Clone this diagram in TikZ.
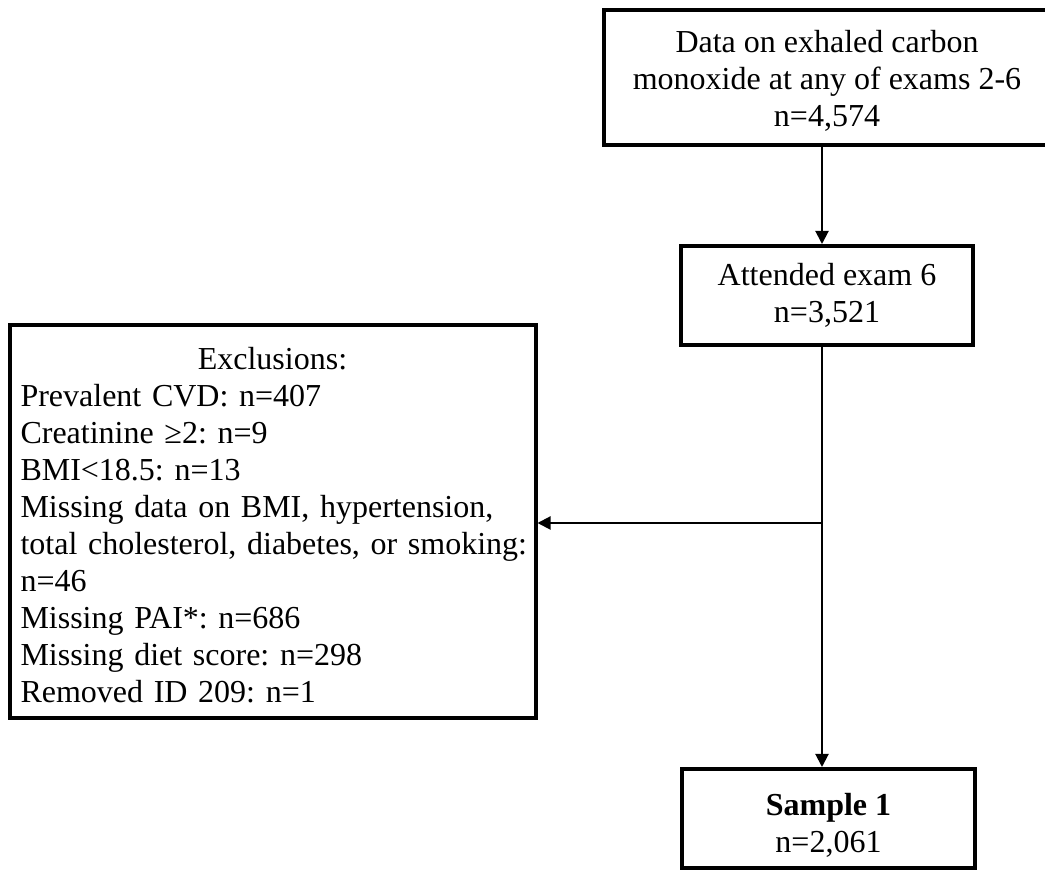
\documentclass[tikz,border=0pt]{standalone}
\usepackage{fontspec}
\setmainfont{Liberation Serif}
\usetikzlibrary{arrows.meta, positioning}
\tikzstyle{stage} = [rectangle, draw=black, line width=2pt, align=center,
                     minimum width=146pt, minimum height=49.5pt, inner sep=0pt,
                     font=\fontsize{16}{18.5}\selectfont\frenchspacing]
\tikzstyle{exclbox} = [rectangle, draw=black, line width=2pt, align=left,
                       text width=252pt, minimum height=196.5pt,
                       inner xsep=5.5pt, inner ysep=0pt,
                       font=\fontsize{16}{18.5}\selectfont\frenchspacing]
\tikzstyle{arrow} = [line width=1pt, -{Triangle[length=6.5pt, width=6.5pt]}]

\begin{document}
\begin{tikzpicture}[x=0.5pt, y=-0.5pt, node distance=109pt]
\useasboundingbox (0,0) rectangle (1045,870);
\node (data) [stage, minimum width=223pt, minimum height=67.5pt] at (827,77.5)
  {\rule{0pt}{14pt}Data on exhaled carbon\\monoxide at any of exams 2-6\\n=4,574};
\node (att)  [stage, below of=data] {Attended exam 6\\n=3,521};
\node (smp)  [stage, below of=att, yshift=-152.5pt, xshift=0.75pt,
              minimum width=146.5pt] {\rule{0pt}{18pt}\textbf{Sample 1}\\n=2,061};
\node (excl) [exclbox] at (272.5,521.5)
  {\rule{0pt}{15pt}\makebox[\linewidth]{Exclusions:}\\
   Prevalent CVD: n=407\\
   Creatinine ≥2: n=9\\
   BMI<18.5: n=13\\
   Missing data on BMI, hypertension,\\
   \mbox{total cholesterol, diabetes, or smoking:}\\
   n=46\\
   Missing PAI*: n=686\\
   Missing diet score: n=298\\
   Removed ID 209: n=1};
\coordinate (split) at (822,523);

\draw [arrow] (data.south -| split) -- (att.north -| split);
\draw [arrow] (att.south -| split)  -- (smp.north -| split);
\draw [arrow] (split) -- (split -| excl.east);
\end{tikzpicture}
\end{document}
